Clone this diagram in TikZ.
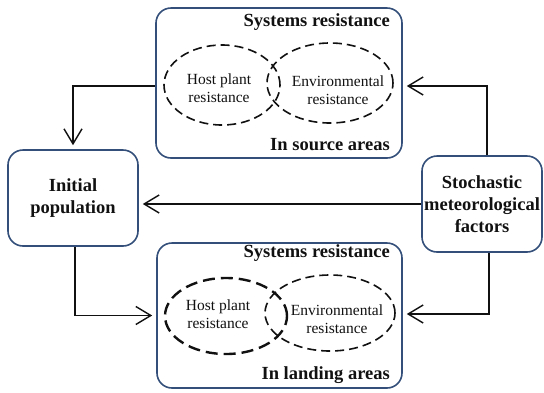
\documentclass[tikz,border=0pt]{standalone}
\usepackage{fontspec}
\setmainfont{Liberation Serif}
\usetikzlibrary{arrows.meta, positioning, calc, shapes.geometric}
\definecolor{boxblue}{HTML}{34507A}
\definecolor{inkblack}{HTML}{111111}

\begin{document}
\begin{tikzpicture}[
  x=1pt, y=-1pt,
  >={Straight Barb[length=15pt, width=18pt, line width=1.4pt]},
  rbox/.style={
    draw=boxblue, line width=1.6pt, rounded corners=15pt,
    minimum width=#1, inner sep=0pt
  },
  bigtxt/.style={font=\fontsize{18.5}{22}\selectfont\bfseries, text=inkblack,
    align=center, inner sep=0pt},
  smtxt/.style={font=\fontsize{15.5}{18.5}\selectfont, text=inkblack,
    align=center, inner sep=0pt},
  dashell/.style={draw=inkblack, ellipse, line width=1.6pt,
    dash pattern=on 9pt off 5pt, inner sep=0pt},
  arr/.style={->, line width=1.6pt, inkblack, shorten >=4pt},
]

% Bounding box
\useasboundingbox (0,0) rectangle (544,392);

% =============================================
% Boxes
% =============================================
\node[rbox=246pt, minimum height=150pt] (srcbox) at (279,83) {};
\node[rbox=245pt, minimum height=145pt] (landbox) at (279.5,315.5) {};
\node[rbox=130pt, minimum height=96pt] (initial) at (73,198) {};
\node[rbox=120pt, minimum height=96pt] (stoch) at (482,204) {};

\node[bigtxt] (initlbl) at (initial) {Initial\\population};
\node[bigtxt] (stochlbl) at (stoch) {Stochastic\\meteorological\\factors};

% =============================================
% Source areas
% =============================================
\node[bigtxt, anchor=east] (srctitle) at (390,22) {Systems resistance};
\node[bigtxt, anchor=east] (srcarea) at (390,145) {In source areas};

\node[dashell, minimum width=116pt, minimum height=80pt] (hostA) at (222,85) {};
\node[dashell, minimum width=126pt, minimum height=80pt] (envA) at (330,83) {};
\node[smtxt] (hostAlbl) at (219,88) {Host plant\\resistance};
\node[smtxt] (envAlbl) at (338,90) {Environmental\\resistance};

% =============================================
% Landing areas
% =============================================
\node[bigtxt, anchor=east] (landtitle) at (390,253) {Systems resistance};
\node[bigtxt, anchor=east] (landarea) at (390,375) {In landing areas};

\node[dashell, line width=2.4pt, dash pattern=on 12pt off 6pt,
  minimum width=122pt, minimum height=76pt] (hostB) at (226,316) {};
\node[dashell, minimum width=130pt, minimum height=76pt] (envB) at (330,313) {};
\node[smtxt] (hostBlbl) at (218,314) {Host plant\\resistance};
\node[smtxt] (envBlbl) at (337,319) {Environmental\\resistance};

% =============================================
% Arrows
% =============================================
\draw[arr] ([yshift=-3pt]srcbox.west) -| (initial.north);
\draw[arr] ([xshift=5pt]stoch.north) |- ([yshift=-3pt]srcbox.east);
\draw[arr] (stoch.west) -- (stoch.west -| initial.east);
\draw[arr] ([xshift=2pt]initial.south) |- (landbox.west);
\draw[arr] ([xshift=7pt]stoch.south) |- ([yshift=1.5pt]landbox.east);

\end{tikzpicture}
\end{document}
